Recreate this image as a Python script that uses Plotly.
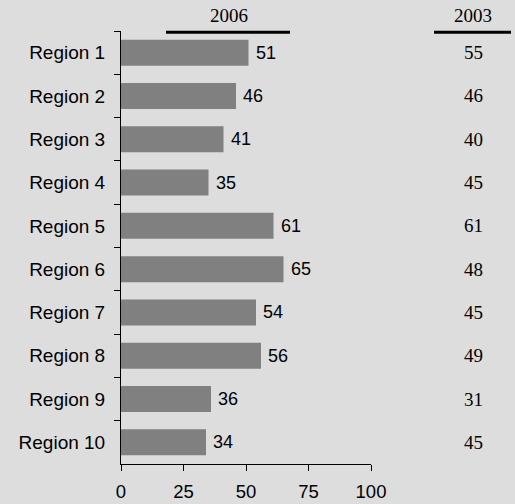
import plotly.graph_objects as go

regions = ["Region 1", "Region 2", "Region 3", "Region 4", "Region 5",
           "Region 6", "Region 7", "Region 8", "Region 9", "Region 10"]
values_2006 = [51, 46, 41, 35, 61, 65, 54, 56, 36, 34]
values_2003 = [55, 46, 40, 45, 61, 48, 45, 49, 31, 45]
x_ticks = [0, 25, 50, 75, 100]

W, H = 515, 504
L, R, T, B = 121, 144, 31, 40
pw, ph = W - L - R, H - T - B

def px_x(x):
    return (x - L) / pw

def px_y(y):
    return (H - B - y) / ph

BG = "#dddddd"
SANS = "Liberation Sans, Arial"
SERIF = "Liberation Serif, Times New Roman"

fig = go.Figure()
fig.add_trace(go.Bar(
    x=values_2006, y=regions, orientation="h",
    marker=dict(color="#808080", line=dict(width=0)),
    hoverinfo="x+y",
))

annotations = []
for r, v in zip(regions, values_2006):
    annotations.append(dict(x=v, xref="x", y=r, yref="y", text=str(v),
                            showarrow=False, xanchor="left", xshift=5,
                            font=dict(family=SANS, size=18, color="black")))
for r, v in zip(regions, values_2003):
    annotations.append(dict(x=px_x(473), xref="paper", y=r, yref="y",
                            text=str(v), showarrow=False, xanchor="center",
                            font=dict(family=SERIF, size=19, color="black")))
for label, cx in (("2006", 228.5), ("2003", 473)):
    annotations.append(dict(x=px_x(cx), xref="paper", y=px_y(16), yref="paper",
                            text=label, showarrow=False, xanchor="center", yanchor="middle",
                            font=dict(family=SERIF, size=19, color="black")))

shapes = [
    dict(type="line", xref="paper", yref="paper", x0=px_x(166), x1=px_x(290),
         y0=px_y(32.3), y1=px_y(32.3), line=dict(color="black", width=3)),
    dict(type="line", xref="paper", yref="paper", x0=px_x(434), x1=px_x(511),
         y0=px_y(32.3), y1=px_y(32.3), line=dict(color="black", width=3)),
]

fig.update_layout(
    width=W, height=H,
    margin=dict(l=L, r=R, t=T, b=B, pad=0, autoexpand=False),
    paper_bgcolor=BG, plot_bgcolor=BG,
    bargap=0.4, showlegend=False,
    font=dict(family=SANS, size=18, color="black"),
    annotations=annotations, shapes=shapes,
    xaxis=dict(range=[0, 100], tickvals=x_ticks, ticks="outside", ticklen=6,
               tickcolor="black", showline=True, linecolor="black", linewidth=1,
               showgrid=False, zeroline=False, fixedrange=True, automargin=False,
               ticklabelstandoff=5, tickfont=dict(family=SANS, size=18.5)),
    yaxis=dict(categoryorder="array", categoryarray=regions, autorange="reversed",
               ticks="outside", ticklen=6, tickcolor="black", tickson="boundaries",
               showline=True, linecolor="black", linewidth=1, showgrid=False,
               zeroline=False, ticklabelstandoff=11, automargin=False,
               tickfont=dict(family=SANS, size=19)),
)

fig.write_html("out.html", config={"displayModeBar": False},
               post_script="document.body.style.margin='0';document.body.style.overflow='hidden';")
